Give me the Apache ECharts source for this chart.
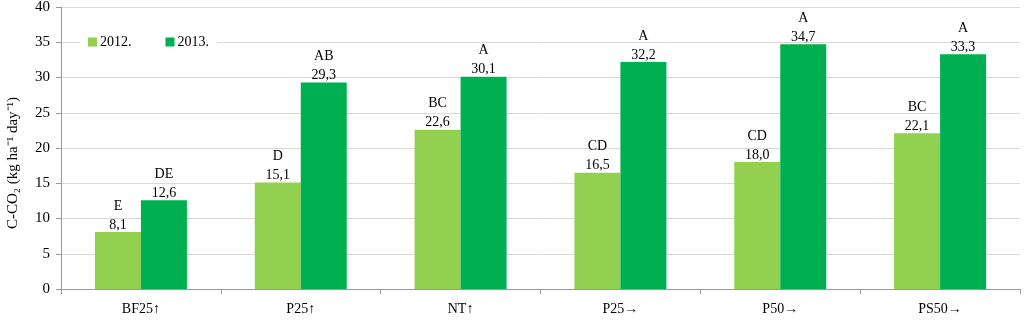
<!DOCTYPE html>
<html><head><meta charset="utf-8">
<script src="https://cdn.jsdelivr.net/npm/echarts@6/dist/echarts.min.js"></script>
<style>html,body{margin:0;padding:0;background:#fff}#c{width:1024px;height:325px}</style>
</head><body><div id="c"></div>
<script>
const categories = ['BF25\u2191','P25\u2191','NT\u2191','P25\u2192','P50\u2192','PS50\u2192'];
const values2012 = [8.1, 15.1, 22.6, 16.5, 18.0, 22.1];
const values2013 = [12.6, 29.3, 30.1, 32.2, 34.7, 33.3];
const letters2012 = ['E','D','BC','CD','CD','BC'];
const letters2013 = ['DE','AB','A','A','A','A'];
const seriesNames = ['2012.','2013.'];
const yTicks = {min:0, max:40, interval:5};

const FONT = 'Liberation Serif';
const fmt = v => v.toFixed(1).replace('.', ',');
function mkLabel(letters){
  return {
    show:true, position:'top', distance:0,
    formatter: p => '{l|' + letters[p.dataIndex] + '}\n{v|' + fmt(p.value) + '}',
    rich:{
      l:{fontFamily:FONT, fontSize:14, color:'#000', lineHeight:24},
      v:{fontFamily:FONT, fontSize:14, color:'#000', lineHeight:14}
    }
  };
}
const chart = echarts.init(document.getElementById('c'));
chart.setOption({
  animation:false,
  backgroundColor:'#fff',
  grid:{left:61, right:4, top:7, bottom:36, containLabel:false, outerBoundsMode:'none'},
  legend:{
    left:80, top:33, itemWidth:9, itemHeight:9, itemGap:34,
    backgroundColor:'#fff', padding:[2,8,2,8],
    icon:'rect',
    textStyle:{fontFamily:FONT, fontSize:14, color:'#000', padding:[0,0,0,-2]},
    data:seriesNames
  },
  xAxis:{
    type:'category', data:categories,
    axisLine:{lineStyle:{color:'#999'}},
    axisTick:{show:true, length:5, lineStyle:{color:'#999'}},
    axisLabel:{fontFamily:FONT, fontSize:14, color:'#000', margin:13}
  },
  yAxis:{
    type:'value', min:yTicks.min, max:yTicks.max, interval:yTicks.interval,
    name:'C-CO\u2082 (kg ha\u207B\u00B9 day\u207B\u00B9)',
    nameLocation:'middle', nameGap:40, nameRotate:90,
    nameTextStyle:{fontFamily:FONT, fontSize:15, color:'#000', padding:[0,30,0,0]},
    axisLine:{show:true, lineStyle:{color:'#999'}},
    axisTick:{show:true, length:5, lineStyle:{color:'#999'}},
    axisLabel:{fontFamily:FONT, fontSize:15, color:'#000', margin:11},
    splitLine:{lineStyle:{color:'#d9d9d9'}}
  },
  series:[
    {name:seriesNames[0], type:'bar', data:values2012, barWidth:46, barGap:'0%',
     itemStyle:{color:'#92D050'}, label:mkLabel(letters2012)},
    {name:seriesNames[1], type:'bar', data:values2013, barWidth:46, barGap:'0%',
     itemStyle:{color:'#00B050'}, label:mkLabel(letters2013)}
  ]
});
</script></body></html>
